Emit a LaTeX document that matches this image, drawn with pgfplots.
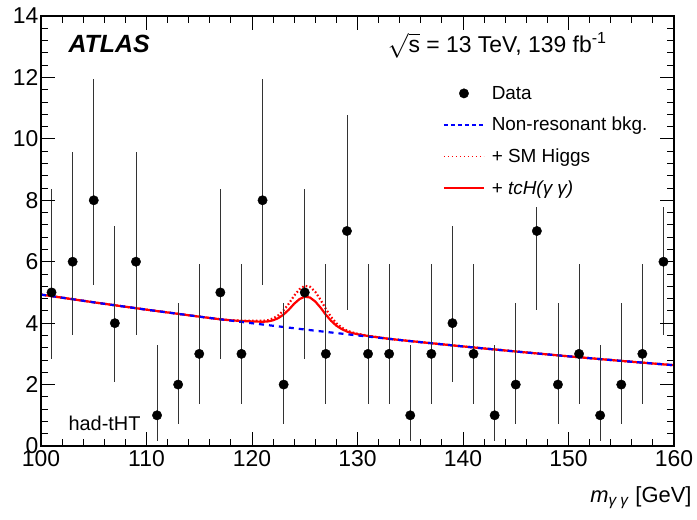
\documentclass[border=0pt]{standalone}
\usepackage{fontspec}
\setmainfont{Liberation Sans}
\usepackage{pgfplots}
\pgfplotsset{compat=1.18}
\begin{document}
\begin{tikzpicture}
\begin{axis}[
  scale only axis, width=633bp, height=430bp,
  xmin=100, xmax=160, ymin=0, ymax=14,
  xtick={100,110,...,160}, ytick={0,2,...,14},
  minor x tick num=4, minor y tick num=4,
  tick align=inside, tick pos=both,
  major tick length=14bp, minor tick length=7bp,
  tick style={black, line width=0.9bp},
  axis line style={line width=1.3bp},
  axis on top,
  ticklabel style={font=\fontsize{23}{26}\selectfont},
  /pgf/number format/assume math mode=true,
  xticklabel style={yshift=-1bp},
  yticklabel style={xshift=1bp},
  xlabel={\textit{m}\textsubscript{\textit{γ γ}} [GeV]},
  xlabel style={at={(1,0)}, anchor=base east, xshift=21bp, yshift=-56bp, font=\fontsize{22}{26}\selectfont},
  legend style={draw=none, fill=none, at={(0.635,0.842)}, anchor=north west,
    font=\fontsize{19}{22}\selectfont, row sep=12.5bp, column sep=5bp, inner sep=0pt},
  legend cell align=left,
  legend image code/.code={\draw[#1] (0bp,0bp) -- (40bp,0bp);},
  clip=true,
]
\addlegendimage{legend image code/.code={\fill[black] (20bp,0bp) circle (4.7bp);}}
\addlegendentry{Data}
\addlegendimage{blue, line width=1.6bp, dash pattern=on 4bp off 3bp}
\addlegendentry{Non-resonant bkg.}
\addlegendimage{red, line width=1.6bp, dash pattern=on 1.5bp off 2.5bp}
\addlegendentry{+ SM Higgs}
\addlegendimage{red, line width=1.6bp}
\addlegendentry{+ \textit{tcH(γ γ)}}
% + SM Higgs (dotted)
\addplot[red, line width=2.2bp, dash pattern=on 1.6bp off 2.2bp, forget plot] coordinates {
(100,4.930) (105,4.678) (110,4.439) (115,4.212) (117,4.125) (118,4.095) (119,4.079) (119.5,4.078) (120,4.077) (120.5,4.076) (121,4.075) (121.5,4.095) (122,4.154) (122.5,4.254) (123,4.418) (123.5,4.638) (124,4.897) (124.5,5.103) (125,5.216) (125.5,5.183) (126,5.018) (126.5,4.758) (127,4.459) (127.5,4.200) (128,3.995) (128.5,3.857) (129,3.757) (129.5,3.698) (130,3.653) (131,3.589) (132,3.538) (133,3.488) (135,3.416) (140,3.242) (145,3.077) (150,2.920) (155,2.771) (160,2.630)};
% + tcH (solid)
\addplot[red, line width=2.2bp, forget plot] coordinates {
(100,4.930) (105,4.678) (110,4.439) (115,4.212) (117,4.125) (118,4.092) (119,4.069) (119.5,4.063) (120,4.057) (120.5,4.051) (121,4.045) (121.5,4.055) (122,4.094) (122.5,4.164) (123,4.283) (123.5,4.443) (124,4.633) (124.5,4.783) (125,4.863) (125.5,4.833) (126,4.704) (126.5,4.504) (127,4.274) (127.5,4.075) (128,3.916) (128.5,3.807) (129,3.727) (129.5,3.678) (130,3.640) (131,3.582) (132,3.535) (133,3.488) (135,3.416) (140,3.242) (145,3.077) (150,2.920) (155,2.771) (160,2.630)};
% background (drawn on top)
\addplot[blue, line width=2.2bp, dash pattern=on 5bp off 5bp, forget plot] coordinates {
(100,4.930) (105,4.678) (110,4.439) (115,4.212) (120,3.997) (125,3.793) (130,3.600) (135,3.416) (140,3.242) (145,3.077) (150,2.920) (155,2.771) (160,2.630)};
% data
\addplot[only marks, mark=*, mark size=4.7bp, black, forget plot,
  error bars/.cd, y dir=both, y explicit, error mark=none,
  error bar style={line width=0.9bp, black!80}]
coordinates {
(101,5) += (0,3.38) -= (0,2.16)
(103,6) += (0,3.58) -= (0,2.38)
(105,8) += (0,3.95) -= (0,2.77)
(107,4) += (0,3.16) -= (0,1.91)
(109,6) += (0,3.58) -= (0,2.38)
(111,1) += (0,2.30) -= (0,0.83)
(113,2) += (0,2.64) -= (0,1.29)
(115,3) += (0,2.92) -= (0,1.63)
(117,5) += (0,3.38) -= (0,2.16)
(119,3) += (0,2.92) -= (0,1.63)
(121,8) += (0,3.95) -= (0,2.77)
(123,2) += (0,2.64) -= (0,1.29)
(125,5) += (0,3.38) -= (0,2.16)
(127,3) += (0,2.92) -= (0,1.63)
(129,7) += (0,3.77) -= (0,2.58)
(131,3) += (0,2.92) -= (0,1.63)
(133,3) += (0,2.92) -= (0,1.63)
(135,1) += (0,2.30) -= (0,0.83)
(137,3) += (0,2.92) -= (0,1.63)
(139,4) += (0,3.16) -= (0,1.91)
(141,3) += (0,2.92) -= (0,1.63)
(143,1) += (0,2.30) -= (0,0.83)
(145,2) += (0,2.64) -= (0,1.29)
(147,7) += (0,3.77) -= (0,2.58)
(149,2) += (0,2.64) -= (0,1.29)
(151,3) += (0,2.92) -= (0,1.63)
(153,1) += (0,2.30) -= (0,0.83)
(155,2) += (0,2.64) -= (0,1.29)
(157,3) += (0,2.92) -= (0,1.63)
(159,6) += (0,3.58) -= (0,2.38)
};
% white legend box (as in the ROOT original)
\fill[white] (rel axis cs:0.630,0.556) rectangle (rel axis cs:0.999,0.874);
\node[anchor=base west, font=\fontsize{25}{30}\selectfont\bfseries\itshape] at (rel axis cs:0.038,0.914) {ATLAS};
\node[anchor=base east, font=\fontsize{23}{27}\selectfont] at (rel axis cs:0.899,0.914) {$\sqrt{\mbox{s}}$ = 13 TeV, 139 fb\textsuperscript{-1}};
\node[anchor=base west, font=\fontsize{20}{24}\selectfont] at (rel axis cs:0.038,0.037) {had-tHT};
\end{axis}
\path (current axis.south west) ++(-41bp,-73bp) coordinate (bbA);
\path (current axis.north east) ++(23bp,16bp) coordinate (bbB);
\useasboundingbox (bbA) rectangle (bbB);
\end{tikzpicture}
\end{document}
